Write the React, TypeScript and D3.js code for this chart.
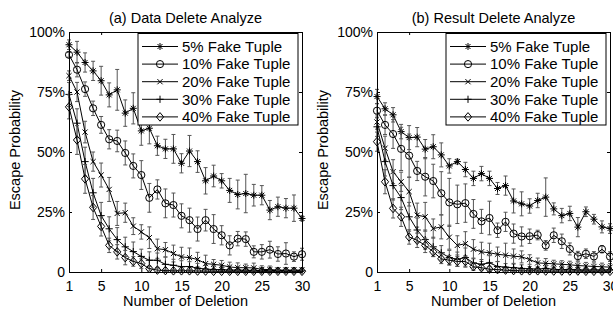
import React, { useEffect, useRef } from 'react';
import * as d3 from 'd3';

// number of deletions (x axis)
const deletions = [1, 2, 3, 4, 5, 6, 7, 8, 9, 10, 11, 12, 13, 14, 15, 16, 17, 18, 19, 20, 21, 22, 23, 24, 25, 26, 27, 28, 29, 30];
const seriesNames = ['5% Fake Tuple', '10% Fake Tuple', '20% Fake Tuple', '30% Fake Tuple', '40% Fake Tuple'];
const markerTypes = ['star', 'circle', 'cross', 'plus', 'diamond'];
const panelTitles = ['(a) Data Delete Analyze', '(b) Result Delete Analyze'];
const xTicks = [1, 5, 10, 15, 20, 25, 30];
const yTicks = [0, 25, 50, 75, 100];

// (a) data delete: mean escape probability (%) and half error bar
const dataDel5 = [94.7, 91.6, 87.3, 83.8, 79.7, 73.8, 75.9, 66.2, 68.2, 58.8, 59.9, 52.6, 51.3, 51.3, 45.3, 50.4, 46.0, 38.0, 40.0, 38.0, 34.0, 32.3, 32.7, 32.0, 32.0, 25.8, 27.2, 26.6, 26.6, 22.3];
const dataDel5Err = [2.0, 4.5, 4.0, 4.0, 6.0, 5.0, 8.5, 5.5, 6.5, 6.0, 6.5, 4.0, 4.0, 6.0, 4.0, 6.5, 4.5, 5.5, 4.5, 3.0, 5.0, 6.0, 8.0, 4.5, 4.0, 4.0, 4.0, 4.0, 5.5, 1.0];
const dataDel10 = [90.5, 84.3, 76.2, 68.2, 61.3, 55.3, 54.6, 49.6, 44.2, 40.4, 30.9, 34.4, 28.6, 27.9, 23.4, 21.6, 17.9, 21.6, 17.9, 15.3, 11.1, 13.9, 13.7, 8.4, 8.4, 9.3, 7.5, 7.7, 6.4, 7.4];
const dataDel10Err = [1.0, 3.0, 3.0, 3.0, 3.5, 4.0, 4.5, 5.0, 5.0, 6.0, 6.0, 4.0, 6.0, 5.0, 5.0, 5.0, 5.0, 4.5, 6.0, 4.0, 4.0, 3.0, 3.0, 2.5, 3.0, 3.5, 3.0, 4.5, 2.0, 2.5];
const dataDel20 = [81.8, 75.0, 58.3, 46.0, 40.4, 34.4, 24.4, 24.7, 19.1, 16.7, 14.3, 9.7, 9.3, 7.7, 6.3, 6.0, 5.2, 3.5, 3.2, 2.8, 2.1, 1.8, 1.8, 1.7, 1.1, 1.0, 0.8, 0.8, 0.8, 0.8];
const dataDel20Err = [2.0, 4.0, 4.5, 4.0, 5.0, 5.0, 5.0, 4.0, 3.5, 3.0, 4.5, 4.0, 3.0, 3.5, 4.0, 4.0, 3.0, 3.5, 2.0, 2.0, 2.0, 2.0, 1.5, 2.0, 1.5, 1.5, 1.0, 1.0, 1.0, 1.0];
const dataDel30 = [74.0, 62.0, 46.0, 33.0, 23.5, 18.0, 13.5, 10.5, 8.5, 6.5, 4.9, 4.9, 3.2, 2.8, 2.2, 2.3, 1.6, 1.2, 1.0, 1.0, 0.8, 0.8, 0.7, 0.7, 0.6, 0.6, 0.6, 0.6, 0.5, 0.5];
const dataDel30Err = [5.0, 6.0, 6.0, 6.0, 5.5, 5.0, 5.0, 4.0, 4.0, 3.0, 3.5, 3.0, 3.0, 2.5, 2.5, 2.0, 2.0, 1.5, 1.5, 1.0, 1.0, 1.0, 1.0, 1.0, 0.8, 0.8, 0.8, 0.8, 0.8, 0.8];
const dataDel40 = [68.8, 55.0, 38.8, 26.9, 19.0, 11.1, 8.4, 6.0, 4.4, 3.5, 1.4, 0.8, 0.6, 0.5, 0.5, 0.5, 0.4, 0.4, 0.3, 0.3, 0.3, 0.3, 0.3, 0.3, 0.3, 0.3, 0.3, 0.3, 0.3, 0.3];
const dataDel40Err = [5.0, 6.0, 6.0, 5.0, 4.0, 3.0, 3.0, 3.0, 2.0, 2.0, 1.0, 0.8, 0.6, 0.5, 0.5, 0.5, 0.5, 0.5, 0.4, 0.4, 0.4, 0.4, 0.4, 0.4, 0.4, 0.4, 0.4, 0.4, 0.4, 0.4];

// (b) result delete
const resDel5 = [73.1, 68.0, 65.5, 58.5, 56.0, 56.2, 51.2, 52.2, 48.8, 44.2, 46.0, 42.7, 39.0, 41.0, 39.0, 34.8, 36.0, 29.6, 28.4, 27.5, 29.8, 31.2, 26.3, 23.5, 24.4, 18.7, 25.1, 22.0, 18.8, 18.1];
const resDel5Err = [3.0, 2.5, 3.0, 3.0, 5.0, 4.0, 4.0, 5.0, 5.0, 3.0, 1.0, 3.0, 3.0, 3.0, 3.0, 2.5, 4.0, 5.0, 5.0, 3.0, 3.0, 8.0, 2.5, 3.0, 3.0, 4.0, 2.0, 2.0, 2.5, 2.0];
const resDel10 = [67.2, 61.3, 57.5, 51.3, 48.5, 42.1, 39.7, 37.9, 32.8, 29.0, 28.2, 28.7, 24.2, 21.1, 22.5, 17.4, 20.9, 16.0, 14.8, 14.9, 15.4, 11.1, 15.3, 12.8, 9.6, 6.6, 7.6, 6.5, 9.5, 6.4];
const resDel10Err = [3.0, 4.0, 6.0, 9.0, 9.0, 4.0, 8.0, 7.0, 9.0, 10.0, 8.0, 8.0, 6.0, 5.0, 7.0, 3.0, 4.0, 4.0, 4.0, 3.0, 2.0, 2.0, 3.0, 3.0, 2.5, 2.0, 2.0, 2.0, 1.5, 2.0];
const resDel20 = [62.5, 51.6, 41.8, 37.6, 33.5, 23.7, 23.0, 18.1, 18.8, 14.5, 11.1, 11.8, 9.5, 8.4, 8.0, 7.4, 7.0, 6.6, 6.3, 5.2, 3.8, 3.6, 3.4, 3.2, 3.0, 2.7, 2.5, 2.3, 2.2, 2.0];
const resDel20Err = [3.0, 5.0, 5.0, 4.0, 6.0, 5.0, 6.0, 4.0, 5.0, 5.0, 4.0, 5.0, 4.0, 4.0, 4.0, 3.0, 5.0, 3.0, 2.5, 2.0, 2.0, 2.0, 1.5, 1.5, 1.5, 1.5, 1.5, 1.5, 1.5, 1.5];
const resDel30 = [60.5, 46.0, 36.0, 31.0, 23.0, 17.5, 13.5, 10.5, 8.0, 6.0, 5.3, 6.0, 3.8, 3.2, 3.8, 2.3, 2.0, 1.8, 1.5, 1.3, 1.2, 1.5, 1.1, 1.0, 1.1, 0.9, 0.8, 0.9, 0.8, 0.9];
const resDel30Err = [4.0, 6.0, 6.0, 5.0, 6.0, 5.0, 4.0, 4.0, 3.0, 3.0, 3.0, 4.0, 2.0, 2.0, 3.0, 2.0, 1.5, 1.5, 1.5, 1.0, 1.0, 1.0, 1.0, 1.0, 1.0, 1.0, 1.0, 1.0, 1.0, 1.0];
const resDel40 = [54.3, 37.6, 26.5, 23.0, 14.6, 13.2, 11.1, 8.4, 5.5, 4.9, 4.4, 4.4, 2.2, 1.8, 1.2, 1.0, 0.8, 0.6, 0.5, 0.5, 0.5, 0.4, 0.4, 0.4, 0.4, 0.4, 0.3, 0.3, 0.3, 0.3];
const resDel40Err = [4.0, 5.0, 4.0, 4.0, 3.0, 3.0, 3.0, 2.0, 2.0, 2.0, 2.0, 2.0, 1.5, 1.0, 1.0, 1.0, 0.8, 0.6, 0.5, 0.5, 0.5, 0.5, 0.5, 0.5, 0.5, 0.5, 0.5, 0.5, 0.5, 0.5];

const panelMeans = [
  [dataDel5, dataDel10, dataDel20, dataDel30, dataDel40],
  [resDel5, resDel10, resDel20, resDel30, resDel40],
];
const panelErrs = [
  [dataDel5Err, dataDel10Err, dataDel20Err, dataDel30Err, dataDel40Err],
  [resDel5Err, resDel10Err, resDel20Err, resDel30Err, resDel40Err],
];

const FONT = '"Liberation Sans", Arial, Helvetica, sans-serif';

// matlab-like marker outlines, centered at 0,0
function markerPath(type: string): string {
  switch (type) {
    case 'star':
      return 'M-3.5,0H3.5M0,-3.5V3.5M-2.5,-2.5L2.5,2.5M-2.5,2.5L2.5,-2.5';
    case 'circle':
      return 'M3.6,0A3.6,3.6 0 1,1 -3.6,0A3.6,3.6 0 1,1 3.6,0Z';
    case 'cross':
      return 'M-2.6,-2.6L2.6,2.6M-2.6,2.6L2.6,-2.6';
    case 'plus':
      return 'M-3.6,0H3.6M0,-3.6V3.6';
    default:
      return 'M0,-4.3L3.6,0L0,4.3L-3.6,0Z';
  }
}

export default function App() {
  const ref = useRef<SVGSVGElement>(null);

  useEffect(() => {
    const svg = d3.select(ref.current);
    svg.selectAll('*').remove();

    const top = 32, bottom = 272, plotW = 233;
    const lefts = [69, 377];

    const y = d3.scaleLinear().domain([0, 100]).range([bottom, top]);

    panelTitles.forEach((title, p) => {
      const left = lefts[p];
      const right = left + plotW;
      const x = d3.scaleLinear().domain([1, 30]).range([left, right]);
      const g = svg.append('g');

      // clip the error bars to the axes box
      const clipId = 'clip' + p;
      svg.append('clipPath').attr('id', clipId)
        .append('rect')
        .attr('x', left - 10).attr('y', top)
        .attr('width', plotW + 20).attr('height', bottom - top);

      const means = panelMeans[p];
      const errs = panelErrs[p];

      means.forEach((vals, s) => {
        const sg = g.append('g');
        const bars = sg.append('g').attr('clip-path', `url(#${clipId})`)
          .attr('stroke', '#555').attr('stroke-width', 1).attr('fill', 'none');
        deletions.forEach((d, i) => {
          const cx = x(d);
          const y0 = y(vals[i] - errs[s][i]);
          const y1 = y(vals[i] + errs[s][i]);
          bars.append('path')
            .attr('d', `M${cx},${y0}V${y1}M${cx - 2},${y0}H${cx + 2}M${cx - 2},${y1}H${cx + 2}`);
        });

        const line = d3.line<number>()
          .x((d, i) => x(deletions[i]))
          .y(d => y(d));
        sg.append('path')
          .datum(vals)
          .attr('d', line)
          .attr('fill', 'none')
          .attr('stroke', '#000')
          .attr('stroke-width', 1);

        sg.selectAll('.mk')
          .data(vals)
          .enter()
          .append('path')
          .attr('d', markerPath(markerTypes[s]))
          .attr('transform', (d, i) => `translate(${x(deletions[i])},${y(d)})`)
          .attr('fill', 'none')
          .attr('stroke', '#000')
          .attr('stroke-width', 1);
      });

      // axes: box with inward ticks
      const bottomAxis = g.append('g')
        .attr('transform', `translate(0,${bottom})`)
        .call(d3.axisBottom(x).tickValues(xTicks).tickSizeInner(-3).tickSizeOuter(0).tickPadding(9));
      const leftAxis = g.append('g')
        .attr('transform', `translate(${left},0)`)
        .call(d3.axisLeft(y).tickValues(yTicks).tickSizeInner(-3).tickSizeOuter(0).tickPadding(4)
          .tickFormat(v => (+v === 0 ? '0' : v + '%')));
      g.append('g')
        .attr('transform', `translate(0,${top})`)
        .call(d3.axisTop(x).tickValues(xTicks).tickSizeInner(-3).tickSizeOuter(0).tickFormat(() => ''));
      g.append('g')
        .attr('transform', `translate(${right},0)`)
        .call(d3.axisRight(y).tickValues(yTicks).tickSizeInner(-3).tickSizeOuter(0).tickFormat(() => ''));

      [bottomAxis, leftAxis].forEach(a => {
        a.selectAll('text').attr('font-family', FONT).attr('font-size', 14).attr('fill', '#000');
      });
      g.selectAll('.domain').attr('stroke', '#000');
      g.selectAll('.tick line').attr('stroke', '#000');

      // titles and labels
      g.append('text')
        .attr('x', (left + right) / 2).attr('y', 22.5)
        .attr('text-anchor', 'middle')
        .attr('font-family', FONT).attr('font-size', 14.5)
        .text(title);
      g.append('text')
        .attr('x', (left + right) / 2).attr('y', 305.5)
        .attr('text-anchor', 'middle')
        .attr('font-family', FONT).attr('font-size', 14.5)
        .text('Number of Deletion');
      g.append('text')
        .attr('transform', `translate(${left - 49},150) rotate(-90)`)
        .attr('text-anchor', 'middle')
        .attr('font-family', FONT).attr('font-size', 14.5)
        .text('Escape Probability');

      // legend
      const lw = 160, lx = right - 4 - lw, ly = 33.5, rowH = 17.6;
      const legend = g.append('g');
      legend.append('rect')
        .attr('x', lx).attr('y', ly).attr('width', lw).attr('height', 91.5)
        .attr('fill', '#fff').attr('stroke', '#000').attr('stroke-width', 1);
      seriesNames.forEach((name, s) => {
        const ry = ly + 13 + s * rowH;
        legend.append('path')
          .attr('d', `M${lx + 4},${ry}H${lx + 40}`)
          .attr('stroke', '#000').attr('stroke-width', 1);
        legend.append('path')
          .attr('d', markerPath(markerTypes[s]))
          .attr('transform', `translate(${lx + 22},${ry})`)
          .attr('fill', 'none').attr('stroke', '#000').attr('stroke-width', 1);
        legend.append('text')
          .attr('x', lx + 44).attr('y', ry + 5.3)
          .attr('font-family', FONT).attr('font-size', 15)
          .text(name);
      });
    });
  }, []);

  return (
    <svg ref={ref} width={613} height={310}
      style={{ position: 'absolute', left: 0, top: 0, background: '#fff' }} />
  );
}
